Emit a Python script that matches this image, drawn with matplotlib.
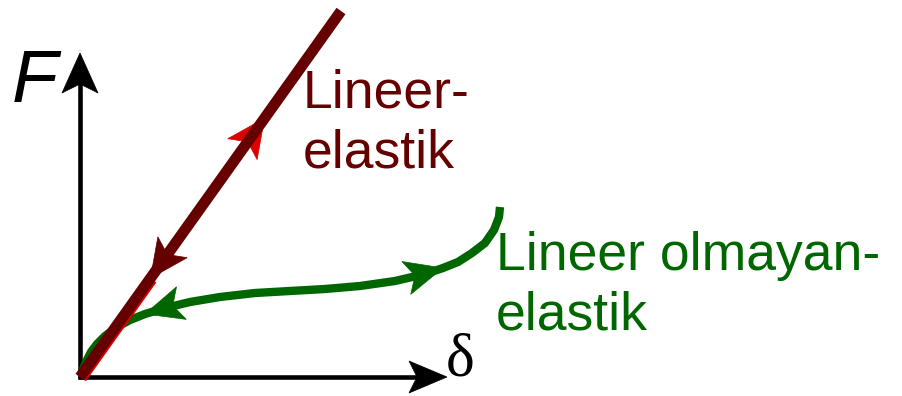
import numpy as np
import matplotlib.pyplot as plt
from matplotlib.patches import Polygon

# diagram coordinates (pixels, y grows downward)
origin = (80, 377)
f_axis_tip = (80, 53)
d_axis_tip = (447, 377)

# linear elastic line
linear_x = [80, 341]
linear_y = [377, 11]
linear_up_arrow = 0.707    # fraction along the line where the red tip sits
linear_down_arrow = 0.27

# non-linear elastic curve
nonlinear_x = [82, 86, 91, 97, 105, 117, 130, 145, 165, 190, 220, 255, 290, 325,
               360, 395, 425, 443, 458, 472, 485, 494, 499, 500]
nonlinear_y = [372, 362, 352, 344, 336, 327, 320, 314, 308, 302, 297, 293, 291, 289,
               286, 281, 274, 268, 262, 253, 243, 230, 217, 207]
nonlinear_back_arrow = 7   # index of tip (pointing back to origin)
nonlinear_fwd_arrow = 17   # index of tip (pointing outward)

DARKRED = "#660000"
RED = "#dd0000"
GREEN = "#006600"


def arrowhead(ax, tip, direction, length, half_width, notch, color, z):
    d = np.asarray(direction, float)
    d = d / np.hypot(*d)
    p = np.array([-d[1], d[0]])
    tip = np.asarray(tip, float)
    base = tip - length * d
    pts = [tip, base + half_width * p, tip - (length - notch) * d,
           base - half_width * p]
    ax.add_patch(Polygon(pts, closed=True, facecolor=color, edgecolor=color,
                         linewidth=0.5, zorder=z))


fig = plt.figure(figsize=(9.02, 3.96), dpi=100)
ax = fig.add_axes([0, 0, 1, 1])
ax.set_xlim(0, 902)
ax.set_ylim(396, 0)
ax.axis("off")

# axes
ax.plot([origin[0], origin[0]], [origin[1] + 2, f_axis_tip[1] + 30],
        color="black", lw=3.3, solid_capstyle="butt", zorder=1)
ax.plot([origin[0] - 2, d_axis_tip[0] - 30], [origin[1], origin[1]],
        color="black", lw=3.3, solid_capstyle="butt", zorder=1)
arrowhead(ax, f_axis_tip, (0, -1), 40, 18, 9, "black", 1)
arrowhead(ax, d_axis_tip, (1, 0), 38, 16, 8, "black", 1)

# non-linear curve
ax.plot(nonlinear_x, nonlinear_y, color=GREEN, lw=6.0,
        solid_capstyle="butt", solid_joinstyle="round", zorder=2)
i = nonlinear_back_arrow
arrowhead(ax, (nonlinear_x[i], nonlinear_y[i]),
          (nonlinear_x[i] - nonlinear_x[i + 1], nonlinear_y[i] - nonlinear_y[i + 1]),
          38, 17, 9, GREEN, 2)
i = nonlinear_fwd_arrow
arrowhead(ax, (nonlinear_x[i], nonlinear_y[i]),
          (nonlinear_x[i] - nonlinear_x[i - 2], nonlinear_y[i] - nonlinear_y[i - 2]),
          38, 17, 9, GREEN, 2)

# linear line (red loading underneath, dark red unloading on top)
lx = np.array(linear_x, float)
ly = np.array(linear_y, float)
d = np.array([lx[1] - lx[0], ly[1] - ly[0]])
d = d / np.hypot(*d)
perp = np.array([-d[1], d[0]]) * 1.8
length = np.hypot(lx[1] - lx[0], ly[1] - ly[0])
down_tip = np.array([lx[0], ly[0]]) + d * length * linear_down_arrow
up_tip = np.array([lx[0], ly[0]]) + d * length * linear_up_arrow

ax.plot([lx[0] + perp[0], down_tip[0] + perp[0]],
        [ly[0] + perp[1], down_tip[1] + perp[1]],
        color=RED, lw=7.9, solid_capstyle="butt", zorder=3)
arrowhead(ax, up_tip, d, 38, 18, 9, RED, 3)
ax.plot(lx, ly, color=DARKRED, lw=7.9, solid_capstyle="butt", zorder=4)
arrowhead(ax, down_tip, -d, 38, 18, 9, DARKRED, 4)

# labels
ax.text(12, 102, "F", fontsize=54, fontstyle="italic", family="Liberation Sans",
        color="black", va="baseline", ha="left")
ax.text(446, 376, "δ", fontsize=44, family="Liberation Serif",
        color="black", va="baseline", ha="left")
ax.text(303, 107, "Lineer-", fontsize=38.5, family="Liberation Sans",
        color=DARKRED, va="baseline", ha="left")
ax.text(303, 167, "elastik", fontsize=38.5, family="Liberation Sans",
        color=DARKRED, va="baseline", ha="left")
ax.text(496, 270, "Lineer olmayan-", fontsize=38.5, family="Liberation Sans",
        color=GREEN, va="baseline", ha="left")
ax.text(496, 330, "elastik", fontsize=38.5, family="Liberation Sans",
        color=GREEN, va="baseline", ha="left")

fig.savefig("out.png", dpi=100)
